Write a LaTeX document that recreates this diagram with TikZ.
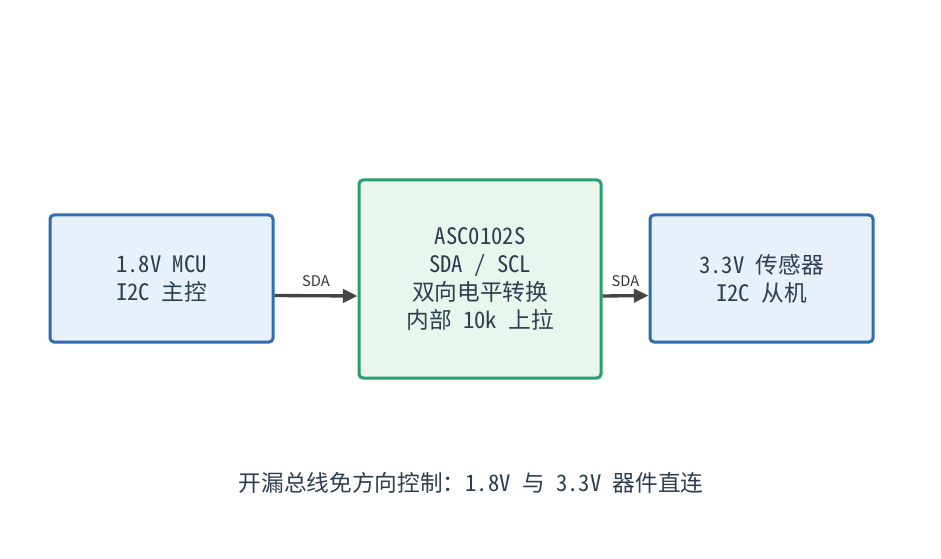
\documentclass[tikz,border=0pt]{standalone}
\usepackage{fontspec}
\setmainfont{Noto Sans CJK SC}[CharacterWidth=Half]
\newfontfamily\fullw{Noto Sans CJK SC}
\usetikzlibrary{arrows.meta}
\definecolor{ink}{HTML}{2C3E50}
\definecolor{mculine}{HTML}{2F6DB3}
\definecolor{mcufill}{HTML}{E8F0FA}
\definecolor{lsline}{HTML}{2A9D6E}
\definecolor{lsfill}{HTML}{E8F6EE}
\definecolor{wire}{HTML}{444444}

\begin{document}
\begin{tikzpicture}[x=0.75pt,y=-0.75pt,
    font=\fontsize{17}{21}\selectfont, text=ink,
    dev/.style={rectangle, rounded corners=3pt, line width=2.25pt, draw=mculine, fill=mcufill,
        align=center, minimum width=167.25pt, minimum height=95.25pt},
    shifter/.style={dev, draw=lsline, fill=lsfill, minimum width=181.5pt, minimum height=148.5pt},
    bus/.style={line width=2.5pt, draw=wire, -{Triangle[length=11pt,width=10pt]}},
    buslabel/.style={font=\fullw\fontsize{11}{12}\selectfont, text=wire!80!black}]
	\useasboundingbox (0,0) rectangle (941,559);

	% three blocks
	\node[dev] (mcu) at (161.5,278.5) {1.8V MCU\\I2C 主控};
	\node[shifter] (ls) at (480,279) {ASC0102S\\SDA / SCL\\双向电平转换\\内部 10k 上拉};
	\node[dev] (sen) at (761.5,278.5) {3.3V 传感器\\I2C 从机};

	% SDA lines
	\draw[bus] ([yshift=-12.75pt]mcu.east) -- ([yshift=-12.75pt]ls.west) node[midway, above=2pt, buslabel] (sda1) {SDA};
	\draw[bus] ([yshift=-12.75pt]ls.east) -- ([yshift=-12.75pt]sen.west) node[midway, above=2pt, buslabel] (sda2) {SDA};

	\node (note) at (471,483) {开漏总线免方向控制{\fullw ：}1.8V 与 3.3V 器件直连};
\end{tikzpicture}
\end{document}
